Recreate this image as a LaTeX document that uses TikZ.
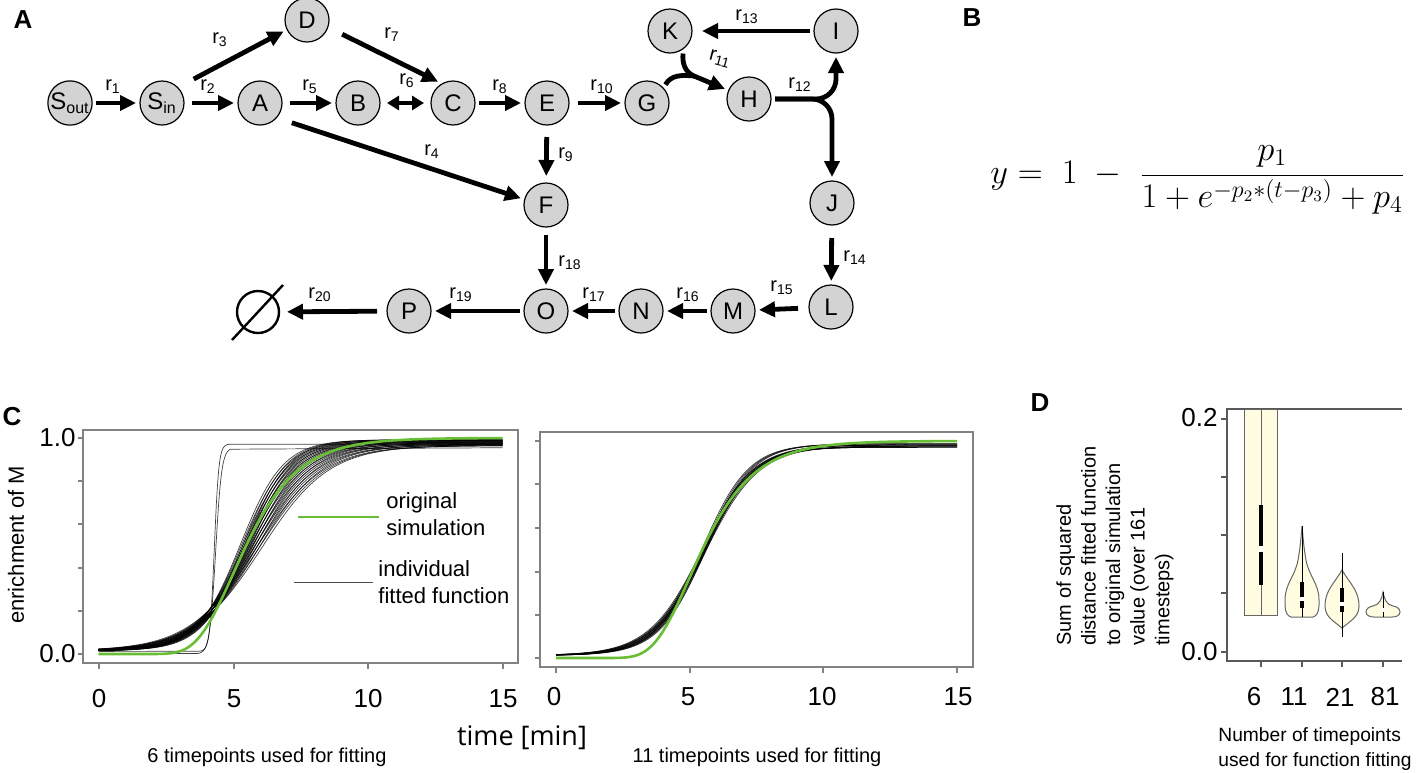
\documentclass[tikz,border=0pt]{standalone}
\usepackage{fontspec}
\usepackage{graphicx}
\setmainfont{Liberation Sans}
\newfontfamily\timefont{Open Sans}
\usetikzlibrary{arrows.meta}

\definecolor{metgray}{RGB}{211,211,211}
\definecolor{simgreen}{RGB}{104,190,52}
\definecolor{violin}{RGB}{255,252,226}
\definecolor{framegray}{RGB}{130,130,130}

\newcommand{\rr}[1]{r\textsubscript{#1}}

\tikzset{
  met/.style={circle, draw, line width=0.6pt, fill=metgray, minimum size=22pt,
    inner sep=0pt, outer sep=2pt, font=\fontsize{12}{14}\selectfont},
  flux/.style={line width=2.4pt, -{Triangle[length=8pt,width=7.5pt]}},
  fluxline/.style={line width=2.4pt},
  rlab/.style={inner sep=0pt, font=\fontsize{10}{12}\selectfont},
  panel/.style={inner sep=0pt, font=\bfseries\fontsize{13}{15}\selectfont},
  tick/.style={inner sep=0pt, font=\fontsize{13}{15}\selectfont},
  fitline/.style={line width=0.35pt, black, opacity=0.75},
  simline/.style={line width=1.3pt, simgreen},
  frame/.style={line width=0.6pt, framegray},
  small/.style={inner sep=0pt, font=\fontsize{10}{12.3}\selectfont},
  violinshape/.style={fill=violin, draw=black!60, line width=0.5pt},
}

\begin{document}
\begin{tikzpicture}[x=0.5pt, y=-0.5pt]
\useasboundingbox (0,0) rectangle (1417,772);

% panel letters
\node[panel] (la) at (23,20) {A};
\node[panel] (lb) at (972,18) {B};
\node[panel] (lc) at (12,417) {C};
\node[panel] (ld) at (1040,403) {D};

% network
\node[met] (Sout) at (70,103) {S\textsubscript{out}};
\node[met] (Sin) at (162,103) {S\textsubscript{in}};
\node[met] (A) at (260,103) {A};
\node[met] (B) at (358,103) {B};
\node[met] (C) at (453,103) {C};
\node[met] (D) at (307,20) {D};
\node[met] (E) at (547,103) {E};
\node[met] (G) at (647,103) {G};
\node[met] (K) at (670,31) {K};
\node[met] (H) at (749,99) {H};
\node[met] (I) at (836,31) {I};
\node[met] (J) at (832,203) {J};
\node[met] (F) at (546,205) {F};
\node[met] (L) at (831,307) {L};
\node[met] (M) at (733,311) {M};
\node[met] (N) at (641,311) {N};
\node[met] (O) at (546,311) {O};
\node[met] (P) at (409,311) {P};
\node[circle, draw, line width=1.2pt, minimum size=21pt, inner sep=0pt, outer sep=4pt] (sink) at (258,312) {};
\draw[line width=1.2pt] ([shift={(-26,28)}]sink.center) -- ([shift={(25,-27)}]sink.center);

\draw[flux] (Sout) -- (Sin);
\draw[flux, shorten <=2pt] (Sin) -- (A);
\draw[flux, shorten <=7pt] (Sin.42) -- (D.206);
\draw[flux, shorten <=2pt] (A) -- (B);
\draw[line width=2.4pt, {Triangle[length=6pt,width=7pt]}-{Triangle[length=6pt,width=7pt]}, shorten <=1.5pt, shorten >=1.5pt] (B) -- (C);
\draw[flux, shorten <=6pt] (D.-20) -- (C.125);
\draw[flux, shorten <=6pt] (A.-38) -- (F.165);
\draw[flux] (C) -- (E);
\draw[flux, shorten <=2.5pt] (E) -- (G);
\draw[flux, shorten <=4pt, shorten >=1.5pt] (E) -- (F);
\coordinate (j11) at (694,76);
\draw[fluxline] (G.45) to[out=60, in=175] (j11);
\draw[flux] (K.-60) to[out=-95, in=157] (j11) -- (H);
\draw[flux, rounded corners=10pt] (H) -| (I);
\draw[flux, rounded corners=10pt] (H) -| (J);
\draw[flux, shorten >=3pt] (I) -- (K);
\draw[flux, shorten <=4.5pt] (J) -- (L);
\draw[flux, shorten <=3.5pt] (L) -- (M);
\draw[flux] (M) -- (N);
\draw[flux] (N) -- (O);
\draw[flux, shorten <=2pt] (F) -- (O);
\draw[flux] (O) -- (P);
\draw[flux, shorten <=3pt] (P) -- (sink);

% reaction labels
\node[rlab] (r1) at (113,87) {\rr{1}};
\node[rlab] (r2) at (208,87) {\rr{2}};
\node[rlab] (r3) at (220,40) {\rr{3}};
\node[rlab] (r4) at (432,152) {\rr{4}};
\node[rlab] (r5) at (310,87) {\rr{5}};
\node[rlab] (r6) at (407,81) {\rr{6}};
\node[rlab] (r7) at (392,35) {\rr{7}};
\node[rlab] (r8) at (500,87) {\rr{8}};
\node[rlab] (r9) at (566,155) {\rr{9}};
\node[rlab] (r10) at (602,87) {\rr{10}};
\node[rlab, rotate=-15] (r11) at (720,59) {\rr{11}};
\node[rlab] (r12) at (800,85) {\rr{12}};
\node[rlab] (r13) at (747,17) {\rr{13}};
\node[rlab] (r14) at (855,258) {\rr{14}};
\node[rlab] (r15) at (782,288) {\rr{15}};
\node[rlab] (r16) at (688,295) {\rr{16}};
\node[rlab] (r17) at (594,295) {\rr{17}};
\node[rlab] (r18) at (570,263) {\rr{18}};
\node[rlab] (r19) at (461,295) {\rr{19}};
\node[rlab] (r20) at (320,295) {\rr{20}};

% formula
\node[anchor=west, inner sep=0pt, font=\fontsize{17}{20}\selectfont] (eq) at (990,180)
  {$y = \;1\; - \;\displaystyle\frac{p_1}{1+e^{-p_2*(t-p_3)}+p_4}$};

% panel C, left plot
\draw[frame] (83,430) rectangle (518,663);
\foreach \y in {438,481,524,568,611,654} \draw[frame] (78,\y) -- (83,\y);
\foreach \x in {99,234,368,503} \draw[frame] (\x,663) -- (\x,669);
\node[tick, anchor=east] (c10) at (76,438) {1.0};
\node[tick, anchor=east] (c00) at (76,654) {0.0};
\foreach \x/\t in {99/0,234/5,368/10,503/15} \node[tick] (cx\t) at (\x,699) {\t};
\node[rotate=90, inner sep=0pt, font=\fontsize{11}{13}\selectfont] (ylab) at (16,545) {enrichment of M};

\begin{scope}[shift={(98.5,654)}, x=13.47pt, y=108pt]
  \foreach \k in {0.8,0.85,...,1.3}
    \foreach \p in {4.2,4.3,4.4}
      \draw[fitline] plot[domain=0:15, samples=60, smooth]
        (\x, {0.015+(0.95+0.06*(\k-0.8))/(1+exp(1.32-\k*(\x-\p)))});
  \draw[fitline] (0,0.012) -- plot[domain=3.7:4.9, samples=40] (\x, {0.012+0.96/(1+exp(-12*(\x-4.3)))}) -- (15,0.972);
  \draw[fitline] (0,0.0) -- plot[domain=3.7:4.9, samples=40] (\x, {0.955/(1+exp(-9*(\x-4.35)))}) -- (15,0.955);
  \draw[simline] plot[domain=0:15, samples=100, smooth] (\x, {exp(-exp(3.74-0.75*\x))});
\end{scope}

% legend
\draw[simline] (298,517) -- (379,517);
\draw[line width=0.5pt, black!70] (294,582) -- (373,582);
\node[anchor=west, align=left, inner sep=0pt, font=\fontsize{11}{13.5}\selectfont] (legsim) at (386,514) {original\\simulation};
\node[anchor=west, align=left, inner sep=0pt, font=\fontsize{11}{13.5}\selectfont] (legfit) at (378,582) {individual\\fitted function};

% panel C, right plot
\draw[frame] (540,432) rectangle (973,667);
\foreach \y in {441,484,528,572,615,658} \draw[frame] (535,\y) -- (540,\y);
\foreach \x in {556,690,823,957} \draw[frame] (\x,667) -- (\x,673);
\foreach \x/\t in {554/0,688/5,822/10,958/15} \node[tick] (rx\t) at (\x,697) {\t};

\begin{scope}[shift={(556,658)}, x=13.37pt, y=108.5pt]
  \foreach \k/\a in {1.0/0.965,1.05/0.97,1.1/0.96,1.15/0.975}
    \foreach \m in {5.45,5.5,5.55,5.6}
      \draw[fitline] plot[domain=0:15, samples=60, smooth] (\x, {0.012+\a/(1+exp(-\k*(\x-\m)))});
  \draw[simline] plot[domain=0:15, samples=100, smooth] (\x, {exp(-exp(3.74-0.75*\x))});
\end{scope}

\node[inner sep=0pt, font=\timefont\fontsize{13.5}{16}\selectfont] (tlab) at (522,738) {time [min]};
\node[small] (cap6) at (267,757) {6 timepoints used for fitting};
\node[small] (cap11) at (757,757) {11 timepoints used for fitting};

% panel D
\draw[line width=0.6pt, black!65] (1402,409) -- (1227,409) -- (1227,661) -- (1402,661);
\foreach \y in {419,477,535,593,652} \draw[line width=0.6pt, black!65] (1221,\y) -- (1227,\y);
\foreach \x in {1261,1302,1342,1383} \draw[line width=0.6pt, black!65] (\x,661) -- (\x,667);
\node[tick, anchor=east] (d02) at (1218,418) {0.2};
\node[tick, anchor=east] (d00) at (1218,652) {0.0};
\foreach \x/\t in {1254/6,1294/11,1340/21,1385/81} \node[tick] (dx\t) at (\x,697) {\t};
\node[rotate=90, anchor=north west, align=left, small] (dylab) at (1056,646)
  {Sum of squared\\distance fitted function\\to original simulation\\value (over 161\\timesteps)};
\node[anchor=west, align=left, inner sep=0pt, font=\fontsize{9.6}{12.3}\selectfont] (dxlab) at (1218,749)
  {Number of timepoints\\used for function fitting};

% violins
\draw[violinshape] (1244,409) rectangle (1277,615);
\draw[line width=0.5pt, black!60] (1261,409) -- (1261,615);
\draw[line width=2pt] (1261,505) -- (1261,585);
\draw[line width=2pt, white] (1261,546) -- (1261,552);

\draw[violinshape] (1302,526) to[out=-85,in=100] (1306,560) to[out=-80,in=90] (1319,600)
  to[out=-90,in=20] (1313,617) -- (1291,617) to[out=160,in=-90] (1285,600)
  to[out=90,in=-100] (1298,560) to[out=80,in=-95] cycle;
\draw[line width=0.5pt] (1302,526) -- (1302,617);
\draw[line width=2.2pt] (1302,582) -- (1302,608);
\draw[line width=2.2pt, white] (1302,597) -- (1302,601);

\draw[violinshape] (1342,570) to[out=-60,in=90] (1359,606) to[out=-90,in=40] (1342,628)
  to[out=140,in=-90] (1325,606) to[out=90,in=-120] cycle;
\draw[line width=0.5pt] (1342,553) -- (1342,637);
\draw[line width=2.2pt] (1342,588) -- (1342,612);
\draw[line width=2.2pt, white] (1342,602) -- (1342,606);

\draw[violinshape] (1383,592) to[out=-80,in=170] (1393,606) to[out=-10,in=90] (1400,612)
  to[out=-90,in=0] (1392,617) -- (1374,617) to[out=180,in=-90] (1366,612)
  to[out=90,in=190] (1373,606) to[out=10,in=-100] cycle;
\draw[line width=0.5pt] (1383,592) -- (1383,617);
\draw[line width=2pt, white] (1383,608) -- (1383,612);
\end{tikzpicture}
\end{document}
